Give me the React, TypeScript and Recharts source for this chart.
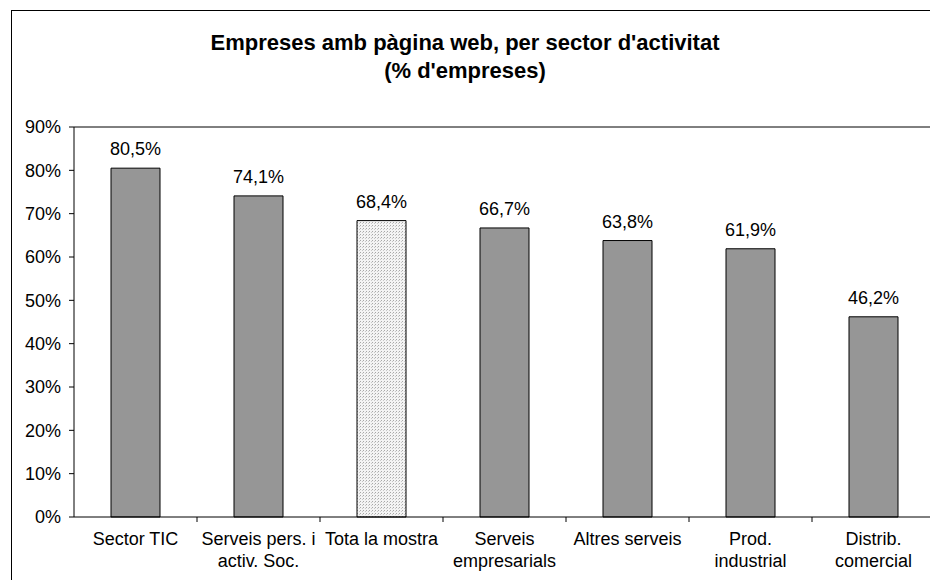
import React from "react";
import {
  BarChart,
  Bar,
  XAxis,
  YAxis,
  Cell,
  LabelList,
  ReferenceLine,
} from "recharts";

const FONT = "'Liberation Sans', Arial, sans-serif";
const BAR = "#969696";

const categories = [
  "Sector TIC",
  "Serveis pers. i\nactiv. Soc.",
  "Tota la mostra",
  "Serveis\nempresarials",
  "Altres serveis",
  "Prod.\nindustrial",
  "Distrib.\ncomercial",
];
const values = [80.5, 74.1, 68.4, 66.7, 63.8, 61.9, 46.2];
const isTotal = [false, false, true, false, false, false, false];
const yTicks = [0, 10, 20, 30, 40, 50, 60, 70, 80, 90];

const data = categories.map((name, i) => ({ name, value: values[i] }));

const fmtPct = (v: number) => `${v.toFixed(1).replace(".", ",")}%`;

function CatTick(props: any) {
  const { x, y, payload } = props;
  const lines = String(payload.value).split("\n");
  const half = payload.offset ?? 61.5;
  return (
    <g>
      <line x1={x + half} x2={x + half} y1={y - 5} y2={y} stroke="#000" />
      <text x={x} y={y} textAnchor="middle" fill="#000" fontSize={18} fontFamily={FONT}>
        {lines.map((l, i) => (
          <tspan key={i} x={x} dy={i === 0 ? 23 : 22}>
            {l}
          </tspan>
        ))}
      </text>
    </g>
  );
}

export default function App() {
  return (
    <div
      style={{
        position: "fixed",
        left: 0,
        top: 0,
        width: 930,
        height: 580,
        overflow: "hidden",
        background: "#fff",
        fontFamily: FONT,
      }}
    >
      <div
        style={{
          position: "absolute",
          left: 11,
          top: 10,
          width: 1000,
          height: 1000,
          border: "1px solid #000",
        }}
      />
      <div
        style={{
          position: "absolute",
          left: 0,
          top: 29,
          width: 930,
          textAlign: "center",
          fontWeight: "bold",
          fontSize: 22,
          lineHeight: "28px",
          color: "#000",
        }}
      >
        Empreses amb pàgina web, per sector d'activitat
        <br />
        (% d'empreses)
      </div>
      <div style={{ position: "absolute", left: 0, top: 0 }}>
        <BarChart
          width={935}
          height={580}
          data={data}
          margin={{ top: 127, right: 0, bottom: 0, left: 0 }}
        >
          <defs>
            <pattern id="dots" width="3" height="3" patternUnits="userSpaceOnUse">
              <rect width="3" height="3" fill="#f4f4f4" />
              <rect x="0" y="0" width="1" height="1" fill="#a8a8a8" />
              <rect x="2" y="1" width="1" height="1" fill="#c8c8c8" />
            </pattern>
          </defs>
          <XAxis
            dataKey="name"
            height={63}
            interval={0}
            axisLine={{ stroke: "#000" }}
            tickLine={false}
            tickSize={5}
            tickMargin={0}
            tick={<CatTick />}
          />
          <YAxis
            width={74}
            domain={[0, 90]}
            ticks={yTicks}
            tickFormatter={(v) => `${v}%`}
            axisLine={{ stroke: "#000" }}
            tickLine={{ stroke: "#000" }}
            tickSize={5}
            tickMargin={8}
            tick={{ fill: "#000", fontSize: 18, fontFamily: FONT }}
          />
          <ReferenceLine y={90} stroke="#000" />
          <Bar dataKey="value" barSize={49} stroke="#000" strokeWidth={1} isAnimationActive={false}>
            {data.map((_, i) => (
              <Cell key={i} fill={isTotal[i] ? "url(#dots)" : BAR} />
            ))}
            <LabelList
              dataKey="value"
              position="top"
              offset={13}
              formatter={(v: any) => fmtPct(Number(v))}
              fill="#000"
              fontSize={18}
              fontFamily={FONT}
            />
          </Bar>
        </BarChart>
      </div>
    </div>
  );
}
